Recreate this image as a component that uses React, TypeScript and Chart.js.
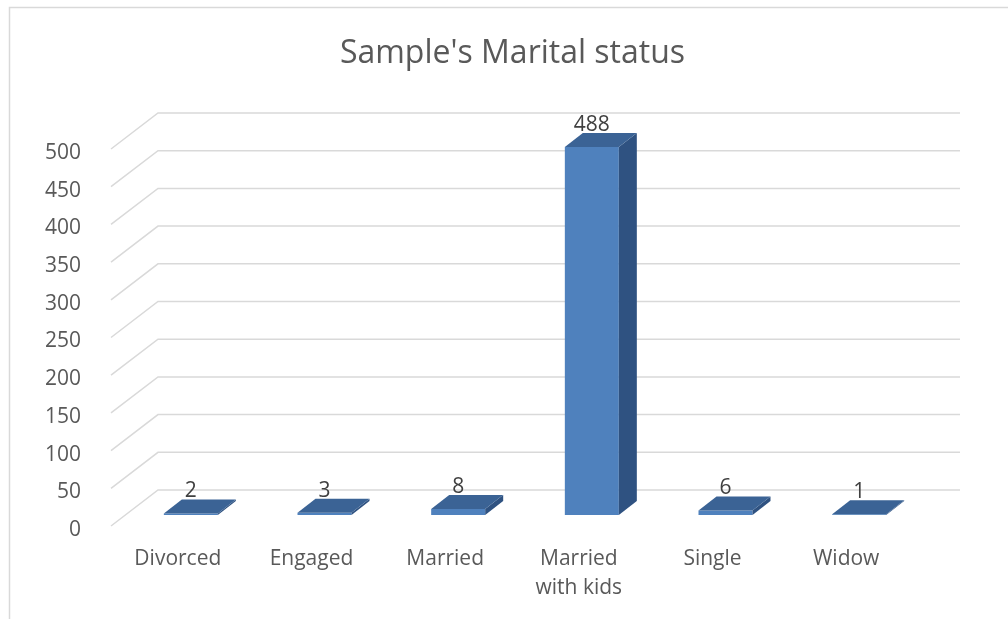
import React, { useEffect, useRef } from 'react';
import { Chart, registerables } from 'chart.js';

Chart.register(...registerables);

// ---- data ----
const categories: (string | string[])[] = ['Divorced', 'Engaged', 'Married', ['Married', 'with kids'], 'Single', 'Widow'];
const counts: number[] = [2, 3, 8, 488, 6, 1];
const yMin = 0;
const yMax = 500;
const yStep = 50;
const titleText = "Sample's Marital status";

// ---- styling ----
const FONT = '"Open Sans", "Noto Sans", sans-serif';
const TEXT = '#595959';
const LABEL = '#404040';
const GRID = '#d9d9d9';
const FRONT = '#4F81BD';
const TOP = '#3B6395';
const SIDE = '#2F5281';
const WALL_DEPTH = { x: 47, y: -36 };
const BAR_SHIFT = { x: 13, y: -11 };
const BAR_DEPTH = { x: 18, y: -14 };

const bar3d = {
  id: 'bar3d',
  beforeDraw(chart: any) {
    const { ctx } = chart;
    ctx.save();
    ctx.strokeStyle = GRID;
    ctx.lineWidth = 1.5;
    ctx.beginPath();
    ctx.moveTo(9.5, chart.height);
    ctx.lineTo(9.5, 7.5);
    ctx.lineTo(chart.width, 7.5);
    ctx.stroke();
    ctx.restore();
  },
  beforeDatasetsDraw(chart: any) {
    const { ctx, chartArea, scales } = chart;
    const y = scales.y;
    ctx.save();
    ctx.strokeStyle = GRID;
    ctx.lineWidth = 1.5;
    y.ticks.forEach((t: any) => {
      const py = y.getPixelForValue(t.value);
      ctx.beginPath();
      ctx.moveTo(chartArea.left, py);
      ctx.lineTo(chartArea.left + WALL_DEPTH.x, py + WALL_DEPTH.y);
      ctx.lineTo(chartArea.right + WALL_DEPTH.x, py + WALL_DEPTH.y);
      ctx.stroke();
    });
    ctx.restore();
    ctx.save();
    ctx.translate(BAR_SHIFT.x, BAR_SHIFT.y);
  },
  afterDatasetsDraw(chart: any) {
    const { ctx } = chart;
    ctx.restore();
    const meta = chart.getDatasetMeta(0);
    const values = chart.data.datasets[0].data as number[];
    meta.data.forEach((bar: any, i: number) => {
      const { x, y, base, width } = bar.getProps(['x', 'y', 'base', 'width'], true);
      const l = x - width / 2 + BAR_SHIFT.x;
      const r = x + width / 2 + BAR_SHIFT.x;
      const t = y + BAR_SHIFT.y;
      const b = base + BAR_SHIFT.y;
      const dx = BAR_DEPTH.x;
      const dy = BAR_DEPTH.y;
      ctx.save();
      // side face
      ctx.fillStyle = SIDE;
      ctx.beginPath();
      ctx.moveTo(r, t);
      ctx.lineTo(r + dx, t + dy);
      ctx.lineTo(r + dx, b + dy);
      ctx.lineTo(r, b);
      ctx.closePath();
      ctx.fill();
      // top face
      ctx.fillStyle = TOP;
      ctx.beginPath();
      ctx.moveTo(l, t);
      ctx.lineTo(r, t);
      ctx.lineTo(r + dx, t + dy);
      ctx.lineTo(l + dx, t + dy);
      ctx.closePath();
      ctx.fill();
      // value label
      ctx.fillStyle = LABEL;
      ctx.font = `21px ${FONT}`;
      ctx.textAlign = 'center';
      ctx.textBaseline = 'middle';
      ctx.fillText(String(values[i]), x + BAR_SHIFT.x, t + dy - 8);
      ctx.restore();
    });
  },
};

export default function App() {
  const ref = useRef<HTMLCanvasElement | null>(null);
  useEffect(() => {
    if (!ref.current) return;
    const chart = new Chart(ref.current, {
      type: 'bar',
      data: {
        labels: categories,
        datasets: [
          {
            data: counts,
            backgroundColor: FRONT,
            borderWidth: 0,
            barPercentage: 0.404,
            categoryPercentage: 1,
            clip: false as any,
          },
        ],
      },
      options: {
        responsive: false,
        animation: false,
        devicePixelRatio: 1,
        layout: { padding: { left: 17, right: 0, top: 0, bottom: 0 } },
        plugins: {
          legend: { display: false },
          tooltip: { enabled: false },
          title: {
            display: true,
            text: titleText,
            color: TEXT,
            font: { family: FONT, size: 32, weight: 'normal' as any },
            padding: { top: 35, bottom: 149 - 35 - 38.4 },
          },
        },
        scales: {
          x: {
            grid: { display: false },
            border: { display: false },
            ticks: {
              color: TEXT,
              font: { family: FONT, size: 21, lineHeight: 1.35 },
              padding: 11,
              maxRotation: 0,
              autoSkip: false,
            },
            afterFit(scale: any) {
              scale.height = 619 - 526;
            },
          },
          y: {
            min: yMin,
            max: yMax,
            grid: { display: false },
            border: { display: false },
            ticks: {
              stepSize: yStep,
              color: TEXT,
              font: { family: FONT, size: 21 },
              padding: 22,
              labelOffset: 4,
            },
            afterFit(scale: any) {
              scale.width = 111 - 17;
            },
          },
          y2: {
            position: 'right',
            display: true,
            grid: { display: false },
            border: { display: false },
            ticks: { display: false },
            afterFit(scale: any) {
              scale.width = 1008 - 913;
            },
          },
        },
      },
      plugins: [bar3d],
    });
    return () => chart.destroy();
  }, []);
  return (
    <div style={{ position: 'fixed', left: 0, top: 0, width: 1008, height: 619, background: '#fff' }}>
      <canvas ref={ref} width={1008} height={619} style={{ display: 'block' }} />
    </div>
  );
}
